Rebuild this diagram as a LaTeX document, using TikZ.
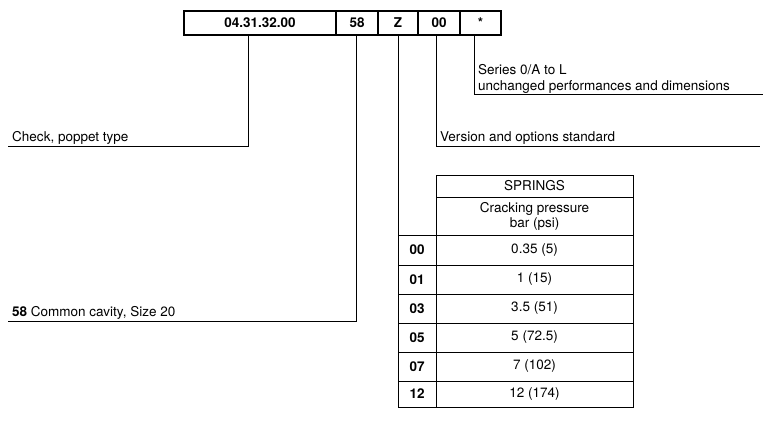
\documentclass[tikz,border=0pt]{standalone}
\usepackage{fontspec}
\setmainfont{TeX Gyre Heros}
\usetikzlibrary{positioning, calc}

\begin{document}
\begin{tikzpicture}[
    x=1pt, y=-1pt,
    font=\fontsize{13.5}{15}\selectfont,
    codebox/.style={draw, line width=1.4pt, rectangle, minimum height=24pt, inner sep=0pt, outer sep=0pt, font=\fontsize{13.5}{15}\selectfont\bfseries},
    leader/.style={draw, line width=0.6pt},
    label/.style={anchor=base west, inner sep=0pt},
    cell/.style={anchor=center, inner sep=0pt, align=center}
]
    \useasboundingbox (0,0) rectangle (775,421);

    % --- Code boxes ---
    \node[codebox, minimum width=152pt] (Base) at (260,23) {04.31.32.00};
    \node[codebox, minimum width=42pt, right=0pt of Base] (Cavity) {58};
    \node[codebox, minimum width=40pt, right=0pt of Cavity] (Spring) {Z};
    \node[codebox, minimum width=42pt, right=0pt of Spring] (Version) {00};
    \node[codebox, minimum width=41pt, right=0pt of Version] (Series) {*};

    % --- Leader end points ---
    \coordinate (BaseEnd) at (8,146);
    \coordinate (CavityEnd) at (8,321);
    \coordinate (SpringEnd) at (398,407);
    \coordinate (VersionEnd) at (760,146);
    \coordinate (SeriesEnd) at (763,94);

    % --- Leaders ---
    \draw[leader] (Base.south -| 248,0) |- (BaseEnd);
    \draw[leader] (Cavity.south -| 356,0) |- (CavityEnd);
    \draw[leader] (Spring.south -| 398,0) -- (SpringEnd);
    \draw[leader] (Version.south -| 436,0) |- (VersionEnd);
    \draw[leader] (Series.south -| 474,0) |- (SeriesEnd);

    % --- Labels ---
    \node[label] (BaseText) at (12,141) {Check, poppet type};
    \node[label] (CavityText) at (12,316) {\textbf{58} Common cavity, Size 20};
    \node[label] (VersionText) at (440,141) {Version and options standard};
    \node[label] (SeriesText) at (478,74) {Series 0/A to L};
    \node[label] (SeriesText2) at (478,90) {unchanged performances and dimensions};

    % --- Springs table ---
    \draw[leader] (436,175) rectangle (633,407);
    \draw[leader] (436,197) -- (633,197);
    \draw[leader] (SpringEnd) -- (633,407);
    \node[cell] (Head) at (534.5,186) {SPRINGS};
    \node[cell] (SubHead) at (534.5,216) {Cracking pressure\\bar (psi)};
    \foreach \code/\val/\top/\bot [count=\i] in {00/0.35 (5)/235/265, 01/1 (15)/265/294, 03/3.5 (51)/294/323, 05/5 (72.5)/323/352, 07/7 (102)/352/381, 12/12 (174)/381/407}{
        \draw[leader] (398,\top) -- (633,\top);
        \node[cell, font=\fontsize{13.5}{15}\selectfont\bfseries] (Code\i) at (417,{(\top+\bot)/2}) {\code};
        \node[cell] (Val\i) at (534.5,{(\top+\bot)/2}) {\val};
    }
\end{tikzpicture}
\end{document}
